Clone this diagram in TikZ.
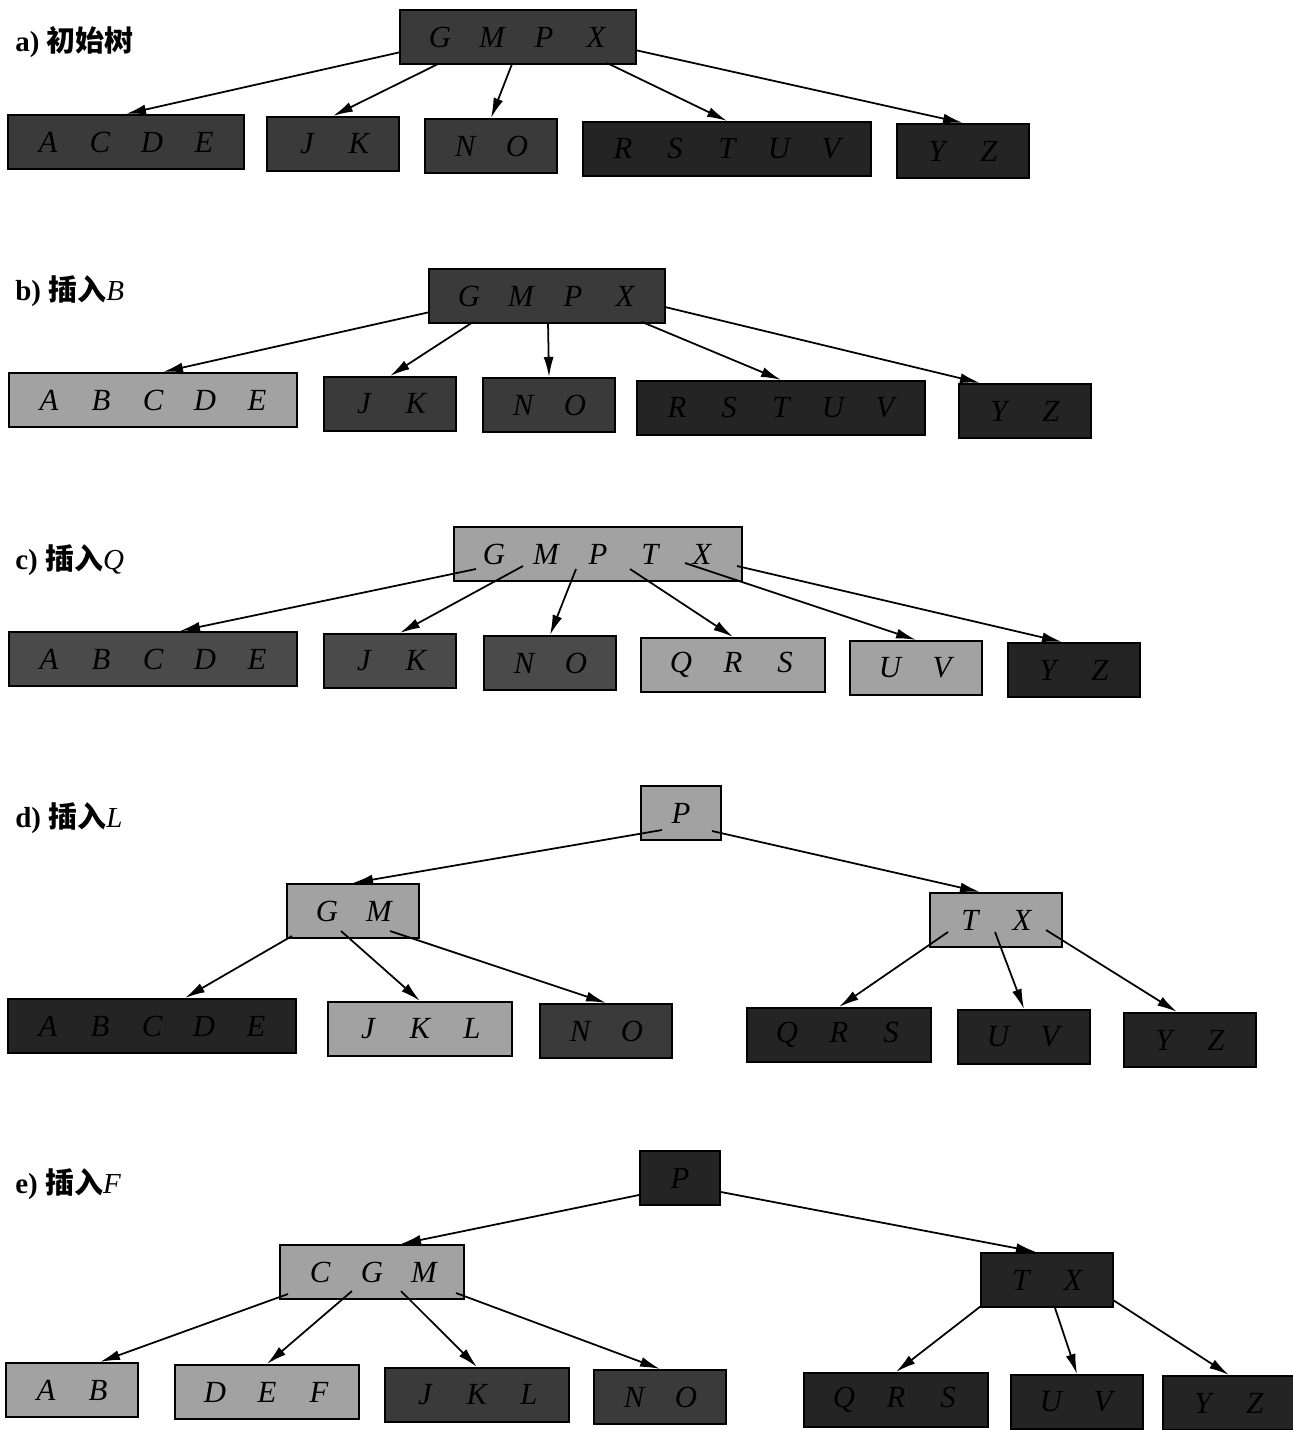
\documentclass[tikz,border=0pt]{standalone}
\usepackage{fontspec}
\setmainfont{Liberation Serif}
\newfontfamily\cjk{Noto Sans CJK SC}
\usetikzlibrary{arrows.meta}
\definecolor{keyLite}{HTML}{A2A2A2}
\definecolor{keyMid}{HTML}{4A4A4A}
\definecolor{keyDark}{HTML}{3A3A3A}
\definecolor{keyInk}{HTML}{242424}
\newcommand{\keyrow}[1]{\foreach \k in {#1}{\makebox[1.04cm]{\k}}}

\begin{document}
\begin{tikzpicture}[
    x=0.02cm, y=-0.02cm,                    % 1 unit = 1 px of the scan, y grows downward
    keybox/.style={draw=black, line width=1.2pt, inner xsep=0.28cm, inner ysep=0pt,
      minimum height=1.08cm, font=\fontsize{17.5}{20}\selectfont\itshape},
    litebox/.style={keybox, fill=keyLite},
    midbox/.style={keybox, fill=keyMid, text=black},
    darkbox/.style={keybox, fill=keyDark, text=black},
    inkbox/.style={keybox, fill=keyInk, text=black},
    ptr/.style={-{Latex[length=0.4cm,width=0.2cm]}, line width=1pt},
    caption/.style={anchor=west, inner sep=0pt, font=\fontsize{16.5}{19}\selectfont\bfseries},
  ]
  \useasboundingbox (0,0) rectangle (1293,1430);

  % ---------- a) initial tree ----------
  \node[caption] (capA) at (15,42) {a) {\cjk 初始树}};
  \node[darkbox] (aRoot)  at (518,37)  {\keyrow{G,M,P,X}};
  \node[darkbox] (aACDE)  at (126,142) {\keyrow{A,C,D,E}};
  \node[darkbox] (aJK)    at (333,144) {\keyrow{J,K}};
  \node[darkbox] (aNO)    at (491,146) {\keyrow{N,O}};
  \node[inkbox]  (aRSTUV) at (727,149) {\keyrow{R,S,T,U,V}};
  \node[inkbox]  (aYZ)    at (963,151) {\keyrow{Y,Z}};

  % ---------- b) insert B ----------
  \node[caption] (capB) at (15,291) {b) {\cjk 插入}{\mdseries\itshape B}};
  \node[darkbox] (bRoot)  at (547,296)  {\keyrow{G,M,P,X}};
  \node[litebox] (bABCDE) at (153,400)  {\keyrow{A,B,C,D,E}};
  \node[darkbox] (bJK)    at (390,404)  {\keyrow{J,K}};
  \node[darkbox] (bNO)    at (549,405)  {\keyrow{N,O}};
  \node[inkbox]  (bRSTUV) at (781,408)  {\keyrow{R,S,T,U,V}};
  \node[inkbox]  (bYZ)    at (1025,411) {\keyrow{Y,Z}};

  % ---------- c) insert Q ----------
  \node[caption] (capC) at (15,560) {c) {\cjk 插入}{\mdseries\itshape Q}};
  \node[litebox] (cRoot)  at (598,554)  {\keyrow{G,M,P,T,X}};
  \node[midbox]  (cABCDE) at (153,659)  {\keyrow{A,B,C,D,E}};
  \node[midbox]  (cJK)    at (390,661)  {\keyrow{J,K}};
  \node[midbox]  (cNO)    at (550,663)  {\keyrow{N,O}};
  \node[litebox] (cQRS)   at (733,665)  {\keyrow{Q,R,S}};
  \node[litebox] (cUV)    at (916,668)  {\keyrow{U,V}};
  \node[inkbox]  (cYZ)    at (1074,670) {\keyrow{Y,Z}};

  % ---------- d) insert L ----------
  \node[caption] (capD) at (15,818) {d) {\cjk 插入}{\mdseries\itshape L}};
  \node[litebox] (dRoot)  at (681,813)   {\keyrow{P}};
  \node[litebox] (dGM)    at (353,911)   {\keyrow{G,M}};
  \node[litebox] (dTX)    at (996,920)   {\keyrow{T,X}};
  \node[inkbox]  (dABCDE) at (152,1026)  {\keyrow{A,B,C,D,E}};
  \node[litebox] (dJKL)   at (420,1029)  {\keyrow{J,K,L}};
  \node[darkbox] (dNO)    at (606,1031)  {\keyrow{N,O}};
  \node[inkbox]  (dQRS)   at (839,1035)  {\keyrow{Q,R,S}};
  \node[inkbox]  (dUV)    at (1024,1037) {\keyrow{U,V}};
  \node[inkbox]  (dYZ)    at (1190,1040) {\keyrow{Y,Z}};

  % ---------- e) insert F ----------
  \node[caption] (capE) at (15,1184) {e) {\cjk 插入}{\mdseries\itshape F}};
  \node[inkbox]  (eRoot) at (680,1178)  {\keyrow{P}};
  \node[litebox] (eCGM)  at (372,1272)  {\keyrow{C,G,M}};
  \node[inkbox]  (eTX)   at (1047,1280) {\keyrow{T,X}};
  \node[litebox] (eAB)   at (72,1390)   {\keyrow{A,B}};
  \node[litebox] (eDEF)  at (267,1392)  {\keyrow{D,E,F}};
  \node[darkbox] (eJKL)  at (477,1395)  {\keyrow{J,K,L}};
  \node[darkbox] (eNO)   at (660,1397)  {\keyrow{N,O}};
  \node[inkbox]  (eQRS)  at (896,1400)  {\keyrow{Q,R,S}};
  \node[inkbox]  (eUV)   at (1077,1402) {\keyrow{U,V}};
  \node[inkbox]  (eYZ)   at (1229,1403) {\keyrow{Y,Z}};

  % ---------- child pointers (start points inside the parent boxes) ----------
  \coordinate (ap1) at (401,52);  \coordinate (ap2) at (438,64);  \coordinate (ap3) at (512,64);
  \coordinate (ap4) at (607,63);  \coordinate (ap5) at (635,50);
  \coordinate (bp1) at (430,312); \coordinate (bp2) at (473,322); \coordinate (bp3) at (548,322);
  \coordinate (bp4) at (642,322); \coordinate (bp5) at (665,307);
  \coordinate (cp1) at (476,569); \coordinate (cp2) at (523,566); \coordinate (cp3) at (576,569);
  \coordinate (cp4) at (630,569); \coordinate (cp5) at (685,563); \coordinate (cp6) at (737,566);
  \coordinate (dp1) at (662,830); \coordinate (dp2) at (712,831);
  \coordinate (dg1) at (292,936); \coordinate (dg2) at (341,931); \coordinate (dg3) at (390,931);
  \coordinate (dt1) at (948,932); \coordinate (dt2) at (995,932); \coordinate (dt3) at (1046,930);
  \coordinate (ep1) at (639,1195); \coordinate (ep2) at (721,1192);
  \coordinate (ec1) at (288,1294); \coordinate (ec2) at (352,1291); \coordinate (ec3) at (401,1291);
  \coordinate (ec4) at (456,1293);
  \coordinate (et1) at (981,1306); \coordinate (et2) at (1055,1308); \coordinate (et3) at (1113,1300);

  % ---------- arrows to the middle of a child's top edge ----------
  \foreach \s/\t in {ap1/aACDE, ap2/aJK, ap3/aNO, ap4/aRSTUV, ap5/aYZ,
      bp2/bJK, bp3/bNO, bp4/bRSTUV,
      cp3/cNO, cp4/cQRS, cp5/cUV,
      dp1/dGM, dg2/dJKL, dg3/dNO, dt1/dQRS, dt2/dUV,
      ec2/eDEF, ec3/eJKL, ec4/eNO, et1/eQRS, et2/eUV, et3/eYZ}
  \draw[ptr] (\s) -- (\t.north);

  % ---------- arrows that land off centre ----------
  \draw[ptr] (bp1) -- ([xshift=0.2cm]bABCDE.north);
  \draw[ptr] (bp5) -- ([xshift=-0.9cm]bYZ.north);
  \draw[ptr] (cp1) -- ([xshift=0.54cm]cABCDE.north);
  \draw[ptr] (cp2) -- ([xshift=0.2cm]cJK.north);
  \draw[ptr] (cp6) -- ([xshift=-0.24cm]cYZ.north);
  \draw[ptr] (dp2) -- ([xshift=-0.32cm]dTX.north);
  \draw[ptr] (dg1) -- ([xshift=0.66cm]dABCDE.north);
  \draw[ptr] (dt3) -- ([xshift=-0.26cm]dYZ.north);
  \draw[ptr] (ep1) -- ([xshift=0.58cm]eCGM.north);
  \draw[ptr] (ep2) -- ([xshift=-0.22cm]eTX.north);
  \draw[ptr] (ec1) -- ([xshift=0.56cm]eAB.north);

\end{tikzpicture}
\end{document}
